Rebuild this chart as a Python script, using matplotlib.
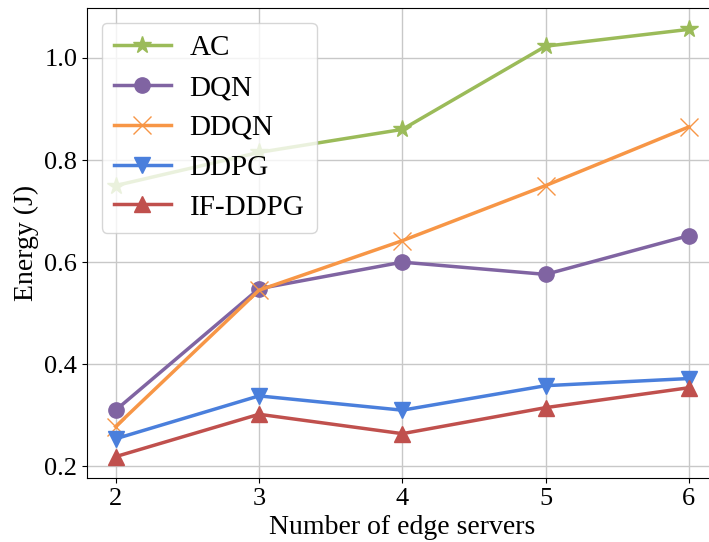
import numpy as np
import matplotlib.pyplot as plt

plt.rcParams['font.family'] = ['Liberation Serif', 'DejaVu Serif']
plt.rcParams['mathtext.fontset'] = 'stix'

servers = [2, 3, 4, 5, 6]
ac = [0.750, 0.815, 0.860, 1.023, 1.056]
dqn = [0.310, 0.548, 0.600, 0.576, 0.652]
ddqn = [0.278, 0.545, 0.642, 0.750, 0.865]
ddpg = [0.254, 0.338, 0.310, 0.358, 0.372]
if_ddpg = [0.219, 0.302, 0.264, 0.315, 0.354]


def main():
    fig = plt.figure(figsize=(7.09, 5.42), dpi=100)
    ax = fig.add_axes([87 / 709, 64 / 542, 630.6 / 709, 470 / 542])

    ax.plot(servers, ac, color='#9bbb59', marker='*', ms=13, lw=2.5, label='AC')
    ax.plot(servers, dqn, color='#8064a2', marker='o', ms=11, lw=2.5, label='DQN')
    ax.plot(servers, ddqn, color='#f79646', marker='x', ms=13, lw=2.5,
            mew=1.0, label='DDQN')
    ax.plot(servers, ddpg, color='#4a7fdc', marker='v', ms=11, lw=2.5, label='DDPG')
    ax.plot(servers, if_ddpg, color='#c0504d', marker='^', ms=11, lw=2.5,
            label='IF-DDPG')

    ax.grid(True, color='#c8c8c8', lw=1.0)
    ax.set_axisbelow(True)
    ax.set_xticks(servers)
    ax.set_yticks([0.2, 0.4, 0.6, 0.8, 1.0])
    ax.tick_params(labelsize=19)
    ax.set_xlabel('Number of edge servers', fontsize=20)
    ax.set_ylabel('Energy (J)', fontsize=20)

    ax.legend(loc='upper left', fontsize=21, handlelength=1.95,
              borderpad=0.42, labelspacing=0.46, handletextpad=0.65)

    fig.savefig('out.png', dpi=100)


if __name__ == "__main__":
    main()
